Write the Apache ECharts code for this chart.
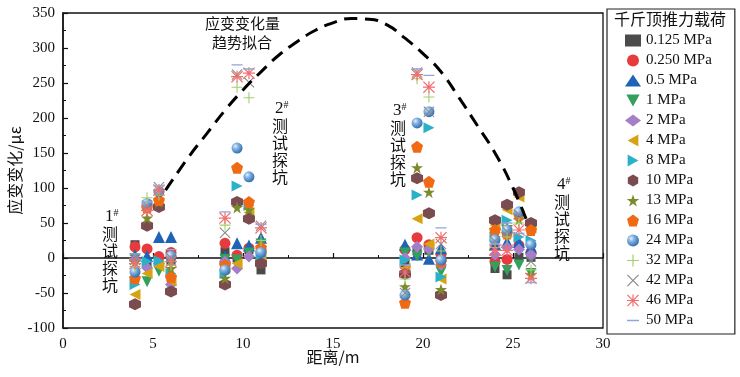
<!DOCTYPE html>
<html><head><meta charset="utf-8">
<script src="https://cdn.jsdelivr.net/npm/echarts@6/dist/echarts.min.js"></script>
<style>html,body{margin:0;padding:0;background:#fff}#c{width:740px;height:377px}</style>
</head><body><div id="c"></div>
<script>
// distance positions (m) of measuring points
const xCols = [4, 4.67, 5.33, 6, 9, 9.67, 10.33, 11, 19, 19.67, 20.33, 21, 24, 24.67, 25.33, 26];
const loadNames = ['0.125 MPa','0.250 MPa','0.5 MPa','1 MPa','2 MPa','4 MPa','8 MPa','10 MPa','13 MPa','16 MPa','24 MPa','32 MPa','42 MPa','46 MPa','50 MPa'];
const s0125 = [19,-7,-2,-4, 9,0,12,-17, -7,10,11,-8, -15,-24,1,1];
const s0250 = [16,13,2,8, 21,4,14,10, 12,29,19,5, -5,-2,18,8];
const s05   = [4,3,30,30, 2,21,18,29, 19,5,-1,14, 20,23,23,15];
const s1    = [-1,-34,-19,-8, -2,-3,7,20, 7,3,8,-20, -13,-18,-10,-22];
const s2    = [-2,-14,-8,-38, -5,-15,2,-3, 0,16,13,-10, 5,15,12,5];
const s4    = [-52,-22,-12,-33, -14,-8,65,5, -15,56,20,-30, 47,69,87,43];
const s8    = [-38,-5,-4,-22, -22,103,75,2, -3,90,186,-27, 30,54,30,25];
const s10   = [-66,46,73,-48, -38,80,56,-8, -23,114,64,-53, 54,76,94,50];
const s13   = [-6,57,80,-15, -29,72,69,12, -41,129,94,-45, 35,45,55,-24];
const s16   = [-29,72,83,-27, -10,129,80,15, -64,159,109,-5, 40,35,62,40];
const s24   = [-20,78,95,3, -17,157,116,8, -53,193,209,-3, 26,40,66,19];
const s32   = [-12,86,90,-10, 47,244,229,25, -30,256,230,10, 15,30,50,-17];
const s42   = [-3,75,101,0, 36,262,251,46, -50,265,209,20, 24,38,62,-5];
const s46   = [-8,68,97,-5, 57,259,264,43, -20,262,244,29, 11,11,40,-29];
const s50   = [6,80,103,12, 66,276,270,48, -10,270,261,43, 20,50,35,-35];
const seriesValues = [s0125,s0250,s05,s1,s2,s4,s8,s10,s13,s16,s24,s32,s42,s46,s50];
// trend fit curve
const trendX = [5.7, 7, 8, 9, 10, 11, 12, 13, 14, 15, 16, 17, 18, 19, 20, 21, 22, 23, 24, 25, 25.8];
const trendY = [97, 145, 178, 211, 240, 266, 290, 309, 325, 336, 342, 341, 333, 314, 292, 266, 229, 190, 150, 100, 51];

const SYM = {
  sq: 'rect',
  ci: 'circle',
  tu: 'triangle',
  td: 'path://M0,0 L10,0 L5,9 Z',
  di: 'diamond',
  tl: 'path://M0,5 L9,0 L9,10 Z',
  tr: 'path://M9,5 L0,0 L0,10 Z',
  hx: 'path://M5,0 L9.33,2.5 L9.33,7.5 L5,10 L0.67,7.5 L0.67,2.5 Z',
  st: 'path://M5,0 L6.2,3.6 L10,3.6 L6.9,5.9 L8.1,9.6 L5,7.3 L1.9,9.6 L3.1,5.9 L0,3.6 L3.8,3.6 Z',
  pe: 'path://M5,0 L10,3.8 L8.1,10 L1.9,10 L0,3.8 Z',
  pl: 'path://M4.5,0 L5.5,0 L5.5,4.5 L10,4.5 L10,5.5 L5.5,5.5 L5.5,10 L4.5,10 L4.5,5.5 L0,5.5 L0,4.5 L4.5,4.5 Z',
  xx: 'path://M0,0.7 L0.7,0 L5,4.3 L9.3,0 L10,0.7 L5.7,5 L10,9.3 L9.3,10 L5,5.7 L0.7,10 L0,9.3 L4.3,5 Z',
  as: 'path://M0,0.7 L0.7,0 L5,4.3 L9.3,0 L10,0.7 L5.7,5 L10,9.3 L9.3,10 L5,5.7 L0.7,10 L0,9.3 L4.3,5 Z M4.5,0 L5.5,0 L5.5,4.5 L10,4.5 L10,5.5 L5.5,5.5 L5.5,10 L4.5,10 L4.5,5.5 L0,5.5 L0,4.5 L4.5,4.5 Z',
  da: 'path://M0,0 L0.01,0 L0,0.01 Z M0,4.4 L10,4.4 L10,5.6 L0,5.6 Z M10,10 L9.99,10 L10,9.99 Z'
};
const sphere = {type:'radial', x:0.35, y:0.33, r:0.7, colorStops:[{offset:0,color:'#e8f1fb'},{offset:0.35,color:'#86b5e3'},{offset:1,color:'#2f6cb0'}]};
const styles = [
  [SYM.sq,'#4b4b4b',9],[SYM.ci,'#e63a3c',11],[SYM.tu,'#1f63b8',12],[SYM.td,'#33a05c',11],
  [SYM.di,'#a47fc8',12],[SYM.tl,'#d6a312',11],[SYM.tr,'#2bb1c7',11],[SYM.hx,'#7a4b4f',12],
  [SYM.st,'#7b8b2b',12],[SYM.pe,'#f06a14',12],[SYM.ci,sphere,11],[SYM.pl,'#a3cf6c',11],
  [SYM.xx,'#8b8b8b',11],[SYM.as,'#f06e6e',12],[SYM.da,'#8ea6d8',11]
];

const series = loadNames.map((n, i) => ({
  name: n, type: 'scatter',
  symbol: styles[i][0], symbolSize: styles[i][2],
  itemStyle: {color: styles[i][1], opacity: 1},
  data: xCols.map((x, j) => [x, seriesValues[i][j]]),
  z: 2 + i * 0.01
}));
series.unshift({
  name: 'trend', type: 'line', smooth: true, showSymbol: false, symbol: 'none',
  data: trendX.map((x, i) => [x, trendY[i]]),
  lineStyle: {color: '#000', width: 3, type: [13, 8]}, z: 5, silent: true
});

const serif = "'Liberation Serif','Noto Sans CJK SC',serif";
const cjk = "'Noto Sans CJK SC','Liberation Serif',serif";
function pit(num, x, y) {
  return [
    {type:'text', left: x - 5, top: y - 10, style:{text:'{n|'+num+'}{s|#}', rich:{n:{fontSize:17,fontFamily:serif,fill:'#111'}, s:{fontSize:10,fontFamily:serif,fill:'#111',verticalAlign:'top',padding:[0,0,8,0]}}}},
    {type:'text', left: x - 8, top: y + 8, style:{text:'测\n试\n探\n坑', fontSize:16, lineHeight:16.8, fontFamily:cjk, fill:'#111'}}
  ];
}

const chart = echarts.init(document.getElementById('c'), null, {renderer:'canvas'});
chart.setOption({
  animation: false,
  backgroundColor: '#fff',
  grid: {left: 63, right: 137, top: 13, bottom: 49, outerBoundsMode: 'none', containLabel: false,
         show: true, borderColor: '#111', borderWidth: 1.3, backgroundColor: 'transparent'},
  xAxis: {
    type:'value', min:0, max:30, interval:5,
    name:'距离/m', nameLocation:'middle', nameGap:21, nameMoveOverlap:false,
    nameTextStyle:{fontSize:16, fontFamily:cjk, color:'#111'},
    axisLine:{lineStyle:{color:'#111', width:1.5}},
    axisTick:{inside:true, length:5, lineStyle:{color:'#111', width:1.2}},
    minorTick:{show:true, splitNumber:2, length:3, lineStyle:{color:'#111'}},
    splitLine:{show:false},
    axisLabel:{fontSize:15, fontFamily:serif, color:'#111', margin:9}
  },
  yAxis: {
    type:'value', min:-100, max:350, interval:50,
    name:'应变变化/με', nameLocation:'middle', nameGap:40, nameRotate:90, nameMoveOverlap:false,
    nameTextStyle:{fontSize:16, fontFamily:cjk, color:'#111'},
    axisLine:{show:true, lineStyle:{color:'#111', width:1.5}},
    axisTick:{inside:true, length:5, lineStyle:{color:'#111', width:1.2}},
    minorTick:{show:true, splitNumber:2, length:3, lineStyle:{color:'#111'}},
    splitLine:{show:false},
    axisLabel:{fontSize:15, fontFamily:serif, color:'#111', margin:8}
  },
  legend: {
    orient:'vertical', left:607, top:9,
    data: loadNames,
    selectedMode:false,
    padding:[24, 23, 6, 18],
    itemWidth:16, itemHeight:12, itemGap:5,
    borderColor:'#222', borderWidth:1.2, backgroundColor:'#fff',
    textStyle:{fontSize:15, fontFamily:serif, color:'#111'}
  },
  graphic: [
    {type:'text', left:614, top:11, z:100, style:{text:'千斤顶推力载荷', fontSize:16, fontFamily:cjk, fill:'#111'}},
    {type:'text', left:205, top:16, style:{text:'应变变化量', fontSize:15, fontFamily:cjk, fill:'#111'}},
    {type:'text', left:212, top:35, style:{text:'趋势拟合', fontSize:15, fontFamily:cjk, fill:'#111'}}
  ].concat(pit('1',110,218), pit('2',280,110), pit('3',398,112), pit('4',562,186)),
  series: series
});
</script></body></html>
